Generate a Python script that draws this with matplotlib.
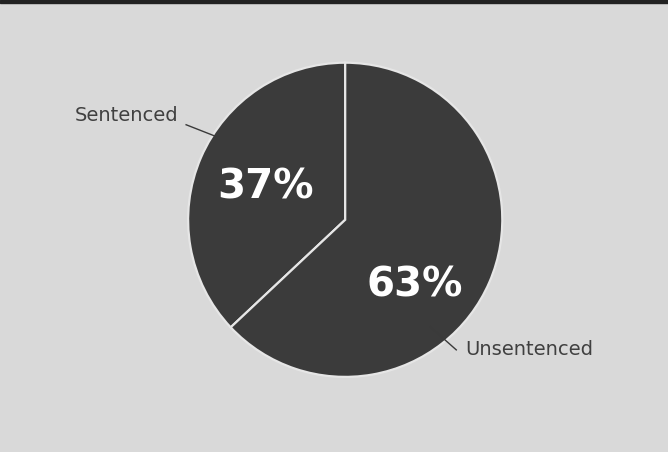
import matplotlib.pyplot as plt
from matplotlib.patches import Rectangle

labels = ["Sentenced", "Unsentenced"]
shares = [37, 63]

W, H = 668, 452
bg = "#d9d9d9"
pie_col = "#3b3b3b"

fig = plt.figure(figsize=(6.684, 4.524), dpi=100, facecolor=bg)
ax = fig.add_axes([0, 0, 1, 1])
ax.set_facecolor(bg)

# dark strip along the top edge
ax.add_patch(Rectangle((0, H - 3), W, 3, color="#222222", zorder=5))

cx, cy, r = 345, H - 220, 157
wedges, _ = ax.pie(shares, center=(cx, cy), radius=r, startangle=90,
                   counterclock=True, colors=[pie_col, pie_col],
                   wedgeprops=dict(edgecolor="#e6e6e6", linewidth=1.6),
                   frame=True)
ax.set_xlim(0, W)
ax.set_ylim(0, H)
ax.set_aspect("equal")
ax.axis("off")

# percentages inside the slices
pct_pos = [(265, H - 187), (414, H - 285)]
for v, (x, y) in zip(shares, pct_pos):
    ax.text(x, y, f"{v}%", color="white", fontsize=29, fontweight="bold",
            ha="center", va="center")

# outside labels with short leader lines
ax.text(75, H - 115, labels[0], fontsize=14, color="#404040",
        ha="left", va="center")
ax.plot([186, 214], [H - 125, H - 136], color="#3a3a3a", lw=1)
ax.text(465, H - 349, labels[1], fontsize=14, color="#404040",
        ha="left", va="center")
ax.plot([430, 456], [H - 327, H - 350], color="#3a3a3a", lw=1)

fig.savefig("out.png", dpi=100, facecolor=bg)
